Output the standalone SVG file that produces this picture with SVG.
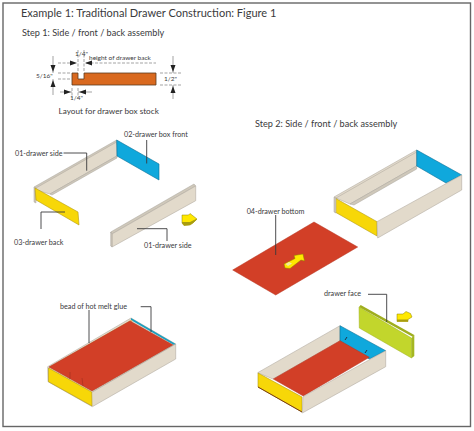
<svg xmlns="http://www.w3.org/2000/svg" width="474" height="431" viewBox="0 0 474 431">
<defs><style>
text{font-family:"Lato","Liberation Sans",sans-serif;fill:#3a3a3c}
.t{font-size:11px}.s{font-size:9.150px}.l{font-size:7.200px}.m{font-size:8.200px}.d{font-size:6.500px}
.w{fill:#e2dacb;stroke:#b3ada2;stroke-width:.6}
.e{fill:#cfc8ba;stroke:#a9a59c;stroke-width:.5}
.y{fill:#f7d708;stroke:#b39a10;stroke-width:.6}
.b{fill:#0fa8dc;stroke:#0a6f95;stroke-width:.6}
.r{fill:#d23f27;stroke:#b5331f;stroke-width:.5}
.ld{fill:none;stroke:#3a3a3c;stroke-width:.9}
.dim{fill:none;stroke:#666;stroke-width:.6}
.dh{fill:#222}
.ar{fill:#ffe800;stroke:#8a8000;stroke-width:.5}
.ad{fill:#a89c10}
</style></defs>
<rect id="frame" x="3" y="3" width="467.500" height="423.500" fill="#fff" stroke="#666" stroke-width="1.400"/>
<text class="t" x="21" y="16.500">Example 1: Traditional Drawer Construction: Figure 1</text>
<text class="s" x="22" y="35.500">Step 1: Side / front / back assembly</text>
<text class="s" x="255" y="127">Step 2: Side / front / back assembly</text>

<g id="stock">
<path d="M72 73H78V79H84V73H156V85H72Z" fill="#d9691f" stroke="#5a3a20" stroke-width=".8"/>
<path class="dim" d="M58 73H70M58 79H70M160 73H181M160 85H181M72 88V98M78 88V98M78 50V71M84 50V71M58 63H76M86 63H156" stroke-dasharray="3 1.500"/>
<path class="dim" d="M53 56V73M53 79V95M173 56V73M173 85V99M60 92H72M78 92H92"/>
<path class="dh" d="M53 72l-2.500-7h5zM53 80l-2.500 7h5zM173 72l-2.500-7h5zM173 86l-2.500 7h5zM77 63l-7-2.500v5zM85 63l7-2.500v5zM71 92l-7-2.500v5zM79 92l7-2.500v5z"/>
<text class="d" x="75" y="56">1/4"</text>
<text class="d" x="89" y="59.500">height of drawer back</text>
<text class="d" x="36" y="77.500">5/16"</text>
<text class="d" x="164" y="81">1/2"</text>
<text class="d" x="70" y="100">1/4"</text>
<text class="m" x="58.500" y="113.500">Layout for drawer box stock</text>
</g>

<g id="step1-u">
<path class="e" d="M34 187L116.700 140L117 144L36 190Z"/>
<path class="w" d="M36 188L116.700 142V156L50 194L36 190Z"/>
<path class="e" d="M50 194L117 156L117 158L52 195Z"/>
<path class="e" d="M34 187L36 188V203L34 202Z"/>
<path class="y" d="M35 188L78 212L79 225L36 200Z"/>
<path class="b" d="M116.700 140L159 164V180L117 156Z"/>
</g>
<g id="step1-side">
<path class="e" d="M110.700 232L194 184L195.700 186L112 234Z"/>
<path class="w" d="M112 234L195.700 186V200.700L112 247Z"/>
<path class="e" d="M110.700 232L112 234V247L110.700 246Z"/>
</g>
<g id="arrow1"><path class="ar" d="M182 215H188.500L190 213.500L197 219L193 223L190 225L184 225.500L182 223Z"/><path class="ad" d="M182 222L190 222L196 219L197 219.500L193 223L190 225L184 225.500L182 223Z"/></g>

<g id="step2-box">
<path class="w" d="M416.700 150L334 197L336 199L416.700 154Z"/>
<path class="w" d="M416.700 152V166L350 204L336 198Z"/>
<path class="e" d="M350 204L416.700 166V169L354 205Z"/>
<path class="b" d="M416.700 150L461.700 175L446 183L416.700 166Z"/>
<path class="y" d="M335 198L377 221.700V236L335 212Z"/>
<path class="w" d="M377 221.700L461.700 175V190L377.700 238Z"/>
<path class="e" d="M334 197L336 198V213L334 212Z"/>
</g>
<g id="sheet"><path class="r" d="M314 222L357.700 247L275.700 295L232.700 270Z"/></g>
<g id="arrow2"><path class="ar" d="M284 264L295 258.500L294 255.500L303 254L304.500 261L301 260L290 268.500L285 268Z"/><path d="M285.500 264L289 262L292 263.500L288 266Z" fill="#f3e9a0"/></g>

<g id="glued">
<path class="w" d="M47.700 366.700L131 318L175.700 344V359L92.300 406.700L48 381.700Z"/>
<path d="M131 318L175.700 344L174 345L131 320Z" fill="#1a9fc0"/>
<path d="M49 367L131 320L133 321L52 368Z" fill="#e0b060"/>
<path class="r" d="M130 321L173 345L92 391L49 367Z"/>
<path d="M70 379L70 372M83 386L82 378" stroke="#a83220" stroke-width=".7" fill="none"/>
<path class="y" d="M48.500 368L91.700 392L92 406L48.500 381.700Z"/>
<path d="M92.300 392L175.700 344" stroke="#b3ada2" stroke-width=".8" fill="none"/>
</g>

<g id="final">
<path class="w" d="M340 325.700L257.700 372.700L273 379L340 341Z"/>
<path class="b" d="M340 325.700L385.700 350.700L369.300 359L340 341Z"/>
<path class="r" d="M340 340.700L369.300 357.300L303.300 396L273.300 379Z"/>
<path class="y" d="M258 373L302 397V412L258 387Z"/>
<path class="w" d="M303 396.700L385.700 350.700V366.700L302.300 413Z"/>
<path d="M258 387L302 412" stroke="#7a3b10" fill="none"/>
<path d="M345 340L347 337M365 353L367 350" stroke="#234" fill="none"/>
</g>
<g id="face">
<path d="M360.700 305L414.300 335L413 337L359 307Z" fill="#9fae1e"/>
<path d="M359 307L411.500 338V358L359.300 328Z" fill="#c2d62c" stroke="#9fae1e" stroke-width=".5"/>
<path d="M411.500 338L414.300 335V356L411.500 358.300Z" fill="#a5b722"/>
</g>
<g id="arrow3"><path class="ar" d="M397 314H403L406 311.500L410.500 313.500L412 317L408 319.500V321.500H397Z"/><path class="ad" d="M397 319.500H408V321.500H397Z"/></g>

<g id="connectors">
<path class="ld" d="M63.500 153H86.700V170.700"/>
<path class="ld" d="M146.700 140V163.500"/>
<path class="ld" d="M41 229V212H65"/>
<path class="ld" d="M137 228.700H167V241"/>
<path class="ld" d="M275.700 215V255"/>
<path class="ld" d="M89 310V343"/>
<path class="ld" d="M140.700 306.700H151V332"/>
<path class="ld" d="M368 294.300H386.700V322"/>
</g>
<g id="labels">
<text class="l" x="124" y="136.500">02-drawer box front</text>
<text class="l" x="15" y="156">01-drawer side</text>
<text class="l" x="14" y="245">03-drawer back</text>
<text class="l" x="144" y="248">01-drawer side</text>
<text class="l" x="246.700" y="213.500">04-drawer bottom</text>
<text class="l" x="60" y="308.500">bead of hot melt glue</text>
<text class="l" x="324" y="296">drawer face</text>
</g>
</svg>
